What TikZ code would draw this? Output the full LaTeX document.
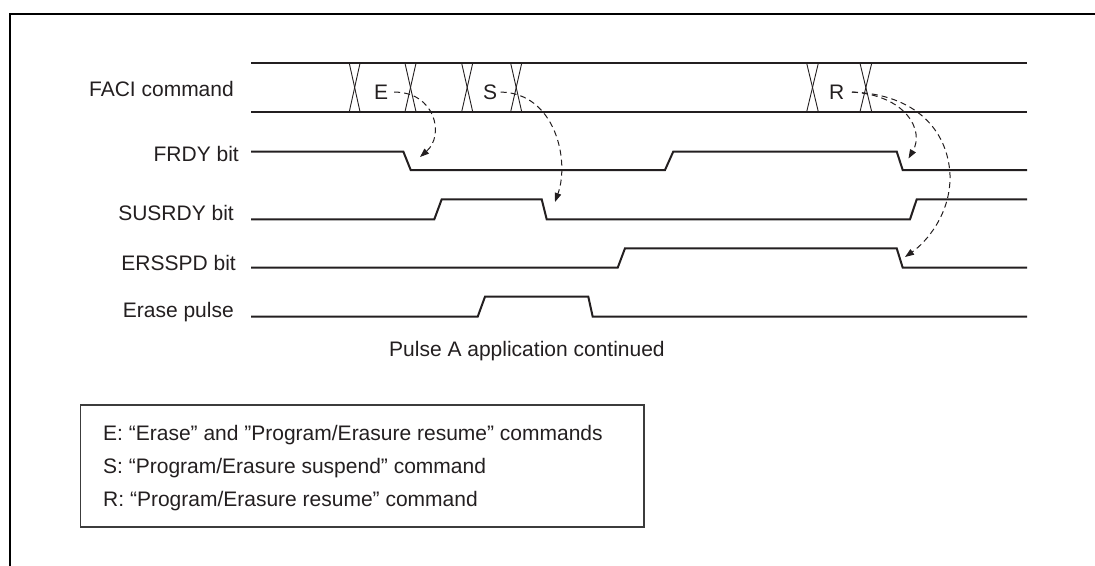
\documentclass[tikz,border=0pt]{standalone}
\usepackage{fontspec}
\setmainfont{Liberation Sans}
\usetikzlibrary{arrows.meta}
\definecolor{ink}{HTML}{231F20}
\definecolor{boxline}{HTML}{3C3C3C}
\begin{document}
\begin{tikzpicture}[x=1pt,y=-1pt,
  wave/.style={line width=2pt, draw=ink, line join=miter},
  busline/.style={line width=2pt, draw=ink},
  xover/.style={line width=0.9pt, draw=ink},
  sig/.style={font=\fontsize{21}{25}\selectfont, text=ink, inner sep=0pt, anchor=base east},
  cmd/.style={font=\fontsize{21}{25}\selectfont, text=ink, inner ysep=0pt, anchor=base},
  cue/.style={draw=ink, line width=1pt, dash pattern=on 6pt off 4pt,
              -{Triangle[length=9pt,width=6.5pt]}},
  note/.style={font=\fontsize{21}{25}\selectfont, text=ink, inner sep=0pt, anchor=base west},
]
\useasboundingbox (0,0) rectangle (1095,565);

% outer frame (top and left edges)
\draw[line width=2.6pt, black] (1100,14) -- (10,14) -- (10,570);

% signal names
\node[sig] (lfaci) at (234,96.7) {FACI command};
\node[sig] (lfrdy) at (239,161.7) {FRDY bit};
\node[sig] (lsus)  at (234,220) {SUSRDY bit};
\node[sig] (lers)  at (236,270.7) {ERSSPD bit};
\node[sig] (lpul)  at (234,317.3) {Erase pulse};

% FACI command bus
\draw[busline] (251,63.3) -- (1027,63.3);
\draw[busline] (251,111.7) -- (1027,111.7);
\foreach \a/\b in {349.3/360, 405/416, 461.7/472.7, 510.7/521.7, 806.7/818.3, 860/871.7}{
  \draw[xover] (\a,63.3) -- (\b,111.7);
  \draw[xover] (\b,63.3) -- (\a,111.7);
}

% commands on the bus
\node[cmd, inner xsep=6pt] (E) at (381,99.3) {E};
\node[cmd, inner xsep=3.5pt] (S) at (490,99.3) {S};
\node[cmd, inner xsep=7.5pt] (R) at (836.7,99.3) {R};

% FRDY bit
\draw[wave] (251,151.5) -- (403.3,151.5) -- (410.7,170) -- (665,170) -- (673.3,151.5)
  -- (896.7,151.5) -- (902.7,170) -- (1027,170);
% SUSRDY bit
\draw[wave] (251,219.3) -- (434.3,219.3) -- (441.7,199.3) -- (541.7,199.3) -- (546.7,219.3)
  -- (910,219.3) -- (916.7,199.3) -- (1027,199.3);
% ERSSPD bit
\draw[wave] (251,267.7) -- (617.7,267.7) -- (625,248.3) -- (896.7,248.3) -- (902.7,267.7)
  -- (1027,267.7);
% Erase pulse
\draw[wave] (251,316.7) -- (477.7,316.7) -- (485,296.7) -- (588.3,296.7) -- (592.7,316.7)
  -- (1027,316.7);

% edge targets of the command effects
\coordinate (frdyE) at (420,157);
\coordinate (susS)  at (555,202);
\coordinate (frdyR) at (908.5,158.5);
\coordinate (ersR)  at (905,257);

% command effects
\draw[cue] (E.east) .. controls (435,92) and (445,135) .. (frdyE);
\draw[cue] (S.east) .. controls (555,93) and (570,160) .. (susS);
\draw[cue] (R.east) .. controls (905,95) and (925,130) .. (frdyR);
\draw[cue] (R.east) .. controls (915,94) and (948,130) .. (950,175)
  .. controls (951,215) and (925,243) .. (ersR);

% pulse note
\node[note] (pulsenote) at (389,356) {Pulse A application continued};

% legend
\draw[line width=1.2pt, draw=boxline] (80.7,405) rectangle (644,527);
\node[note] (kE) at (103,440) {E: “Erase” and ”Program/Erasure resume” commands};
\node[note] (kS) at (103,473) {S: “Program/Erasure suspend” command};
\node[note] (kR) at (103,506) {R: “Program/Erasure resume” command};
\end{tikzpicture}
\end{document}
